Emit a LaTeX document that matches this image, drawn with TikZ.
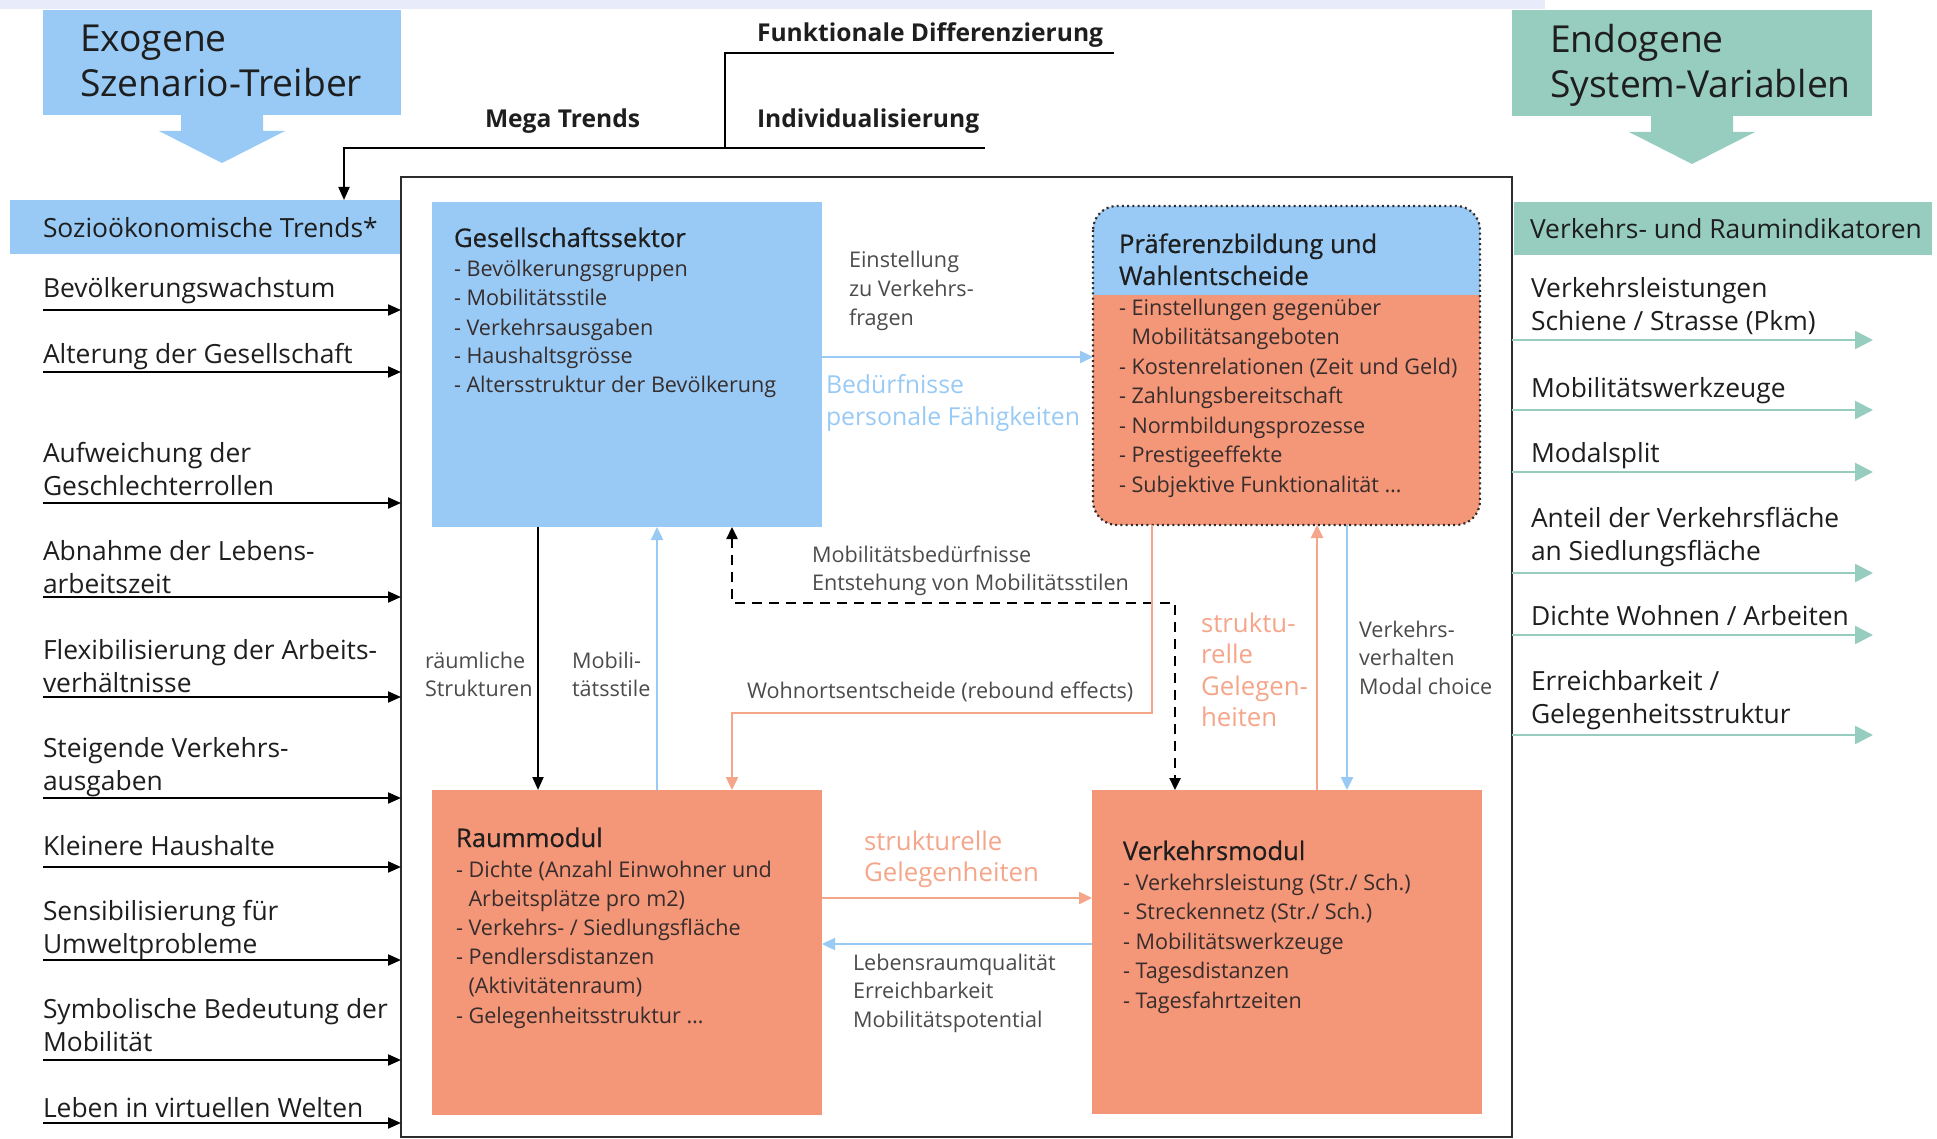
\documentclass[tikz,border=0pt]{standalone}
\usepackage{fontspec}
\setmainfont{Open Sans}
\newfontfamily\titlefont{Open Sans}[FakeBold=0.6]
\usetikzlibrary{arrows.meta,fit}

\definecolor{skyblue}{RGB}{152,202,245}
\definecolor{salmon}{RGB}{244,150,120}
\definecolor{salmonline}{RGB}{245,166,138}
\definecolor{mint}{RGB}{150,205,190}
\definecolor{band}{RGB}{232,236,250}
\definecolor{ink}{RGB}{30,30,30}
\definecolor{itemink}{RGB}{55,45,45}
\definecolor{labelgrey}{RGB}{75,75,75}
\definecolor{framegrey}{RGB}{45,45,45}

% multi-line text whose base anchor is the first baseline
\newcommand\ml[1]{\vtop{\halign{##\hfil\cr#1\crcr}}}
\newcommand\ind{\phantom{- }}

\tikzset{
  area/.style={inner sep=0pt, outer sep=0pt, draw=none},
  txt/.style={inner sep=0pt, outer sep=0pt, anchor=base west},
  headtxt/.style={txt, font=\fontsize{18.6}{22.5}\selectfont, text=ink},
  listtxt/.style={txt, font=\fontsize{13.2}{16.5}\selectfont, text=ink},
  boldtxt/.style={txt, font=\fontsize{12.3}{15}\selectfont\bfseries, text=ink},
  titletxt/.style={txt, font=\fontsize{12.8}{16}\titlefont, text=ink},
  itemtxt/.style={txt, font=\fontsize{10.8}{14.6}\selectfont, text=itemink},
  greytxt/.style={txt, font=\fontsize{10.8}{14.3}\selectfont, text=labelgrey},
  bluetxt/.style={txt, font=\fontsize{12.4}{16}\selectfont, text=skyblue},
  salmontxt/.style={txt, font=\fontsize{12.9}{15.8}\selectfont, text=salmonline},
  blkarr/.style={draw=black, line width=1pt, -{Triangle[length=6.5pt,width=5.5pt]}},
  plainline/.style={draw=black, line width=1pt},
  bluearr/.style={draw=skyblue, line width=1.2pt, -{Triangle[length=6.5pt,width=6pt]}},
  salarr/.style={draw=salmonline, line width=1.2pt, -{Triangle[length=6.5pt,width=6pt]}},
  mintarr/.style={draw=mint, line width=1.3pt, -{Triangle[length=9pt,width=9pt]}},
  dasharr/.style={draw=black, line width=1.2pt, dash pattern=on 5pt off 3.5pt,
    {Triangle[length=6pt,width=5.5pt]}-{Triangle[length=6pt,width=5.5pt]}},
}

\begin{document}
\begin{tikzpicture}[x=0.5pt,y=-0.5pt]
\useasboundingbox (0,0) rectangle (1937,1139);

% top band
\fill[band] (0,0) rectangle (1545,9);

% ---------- headers with block arrows ----------
\node[area, fill=skyblue, fit={(43,10) (401,115)}] (exo) {};
\node[headtxt] (exot) at (80,52) {\ml{Exogene\cr Szenario-Treiber}};
\fill[skyblue, shift={(exo.south)}]
  (-41,0) -- (41,0) -- (41,16) -- (63,16) -- (0,48) -- (-63,16) -- (-41,16) -- cycle;

\node[area, fill=mint, fit={(1512,10) (1872,116)}] (endo) {};
\node[headtxt] (endot) at (1550,53) {\ml{Endogene\cr System-Variablen}};
\fill[mint, shift={(endo.south)}]
  (-41,0) -- (41,0) -- (41,16) -- (63,16) -- (0,48) -- (-63,16) -- (-41,16) -- cycle;

\node[area, fill=skyblue, fit={(10,200) (401,254)}] (sozio) {};
\node[listtxt] (soziot) at (43,238) {Sozioökonomische Trends*};

\node[area, fill=mint, fit={(1514,202) (1932,255)}] (indik) {};
\node[listtxt] (indikt) at (1530,239) {Verkehrs- und Raumindikatoren};

% ---------- mega trends ----------
\node[boldtxt] (mega) at (485,128) {Mega Trends};
\node[boldtxt] (fdiff) at (757,42) {Funktionale Differenzierung};
\node[boldtxt] (indiv) at (757,128) {Individualisierung};
\coordinate (mFD) at (1114,53);
\coordinate (mC) at (725,53);
\coordinate (mJ) at (725,148);
\coordinate (mI) at (985,148);
\coordinate (mM) at (344,148);
\draw[plainline] (mFD) -- (mC) -- (mJ);
\draw[blkarr] (mI) -- (mJ) -- (mM) -- (sozio.north -| mM);

% ---------- system frame ----------
\node[area, draw=framegrey, line width=1.4pt, fit={(401,177) (1512,1137)}] (frame) {};

% ---------- left: socio-economic trends ----------
\node[listtxt] (l1) at (43,298) {Bevölkerungswachstum};
\node[listtxt] (l2) at (43,363) {Alterung der Gesellschaft};
\node[listtxt] (l3) at (43,462) {\ml{Aufweichung der\cr Geschlechterrollen}};
\node[listtxt] (l4) at (43,560) {\ml{Abnahme der Lebens-\cr arbeitszeit}};
\node[listtxt] (l5) at (43,659) {\ml{Flexibilisierung der Arbeits-\cr verhältnisse}};
\node[listtxt] (l6) at (43,757) {\ml{Steigende Verkehrs-\cr ausgaben}};
\node[listtxt] (l7) at (43,855) {Kleinere Haushalte};
\node[listtxt] (l8) at (43,920) {\ml{Sensibilisierung für\cr Umweltprobleme}};
\node[listtxt] (l9) at (43,1018) {\ml{Symbolische Bedeutung der\cr Mobilität}};
\node[listtxt] (l10) at (43,1117) {Leben in virtuellen Welten};
\foreach \n/\y in {1/310,2/372,3/503,4/597,5/697,6/798,7/867,8/960,9/1060,10/1123}{
  \coordinate (la\n) at (43,\y);
  \draw[blkarr] (la\n) -- (la\n -| frame.west);
}

% ---------- right: indicators ----------
\node[listtxt] (r1) at (1531,298) {\ml{Verkehrsleistungen\cr Schiene / Strasse (Pkm)}};
\node[listtxt] (r2) at (1531,397) {Mobilitätswerkzeuge};
\node[listtxt] (r3) at (1531,462) {Modalsplit};
\node[listtxt] (r4) at (1531,527) {\ml{Anteil der Verkehrsfläche\cr an Siedlungsfläche}};
\node[listtxt] (r5) at (1531,625) {Dichte Wohnen / Arbeiten};
\node[listtxt] (r6) at (1531,690) {\ml{Erreichbarkeit /\cr Gelegenheitsstruktur}};
\foreach \n/\y in {1/340,2/410,3/472,4/573,5/635,6/735}{
  \coordinate (ra\n) at (1873,\y);
  \draw[mintarr] (frame.east |- ra\n) -- (ra\n);
}

% ---------- modules ----------
\node[area, fill=skyblue, fit={(432,202) (822,527)}] (ges) {};
\node[titletxt] (gest) at (454,247) {Gesellschaftssektor};
\node[itemtxt, font=\fontsize{10.8}{14.5}\selectfont] (gesi) at (454,277) {\ml{- Bevölkerungsgruppen\cr
  - Mobilitätsstile\cr - Verkehrsausgaben\cr - Haushaltsgrösse\cr - Altersstruktur der Bevölkerung}};

% preference box: blue head, salmon body, dotted rounded outline
\node[area, fit={(1093,206) (1480,525)}] (pref) {};
\begin{scope}
  \clip[rounded corners=12pt] (pref.north west) rectangle (pref.south east);
  \fill[salmon] (pref.north west) rectangle (pref.south east);
  \fill[skyblue] (pref.north west) rectangle (1480,295);
\end{scope}
\draw[framegrey, line width=1.1pt, dash pattern=on 1pt off 1.6pt, rounded corners=12pt]
  (pref.north west) rectangle (pref.south east);
\node[titletxt] (preft) at (1119,253) {\ml{Präferenzbildung und\cr Wahlentscheide}};
\node[itemtxt, font=\fontsize{10.8}{14.75}\selectfont] (prefi) at (1119,315) {\ml{- Einstellungen gegenüber\cr
  \ind Mobilitätsangeboten\cr - Kostenrelationen (Zeit und Geld)\cr - Zahlungsbereitschaft\cr
  - Normbildungsprozesse\cr - Prestigeeffekte\cr - Subjektive Funktionalität …}};

\node[area, fill=salmon, fit={(432,790) (822,1115)}] (raum) {};
\node[titletxt] (raumt) at (456,847) {Raummodul};
\node[itemtxt, font=\fontsize{10.8}{14.6}\selectfont] (raumi) at (456,877) {\ml{- Dichte (Anzahl Einwohner und\cr
  \ind Arbeitsplätze pro m2)\cr - Verkehrs- / Siedlungsfläche\cr - Pendlersdistanzen\cr
  \ind(Aktivitätenraum)\cr - Gelegenheitsstruktur …}};

\node[area, fill=salmon, fit={(1092,790) (1482,1114)}] (verk) {};
\node[titletxt] (verkt) at (1123,860) {Verkehrsmodul};
\node[itemtxt, font=\fontsize{10.8}{14.75}\selectfont] (verki) at (1123,890) {\ml{- Verkehrsleistung (Str./ Sch.)\cr
  - Streckennetz (Str./ Sch.)\cr - Mobilitätswerkzeuge\cr - Tagesdistanzen\cr - Tagesfahrtzeiten}};

% ---------- connector labels ----------
\node[greytxt] (einst) at (849,268) {\ml{Einstellung\cr zu Verkehrs-\cr fragen}};
\node[bluetxt] (bedf) at (826,393) {\ml{Bedürfnisse\cr personale Fähigkeiten}};
\node[greytxt] (mobb) at (812,562) {\ml{Mobilitätsbedürfnisse\cr Entstehung von Mobilitätsstilen}};
\node[greytxt] (raeum) at (425,668) {\ml{räumliche\cr Strukturen}};
\node[greytxt] (mobst) at (572,668) {\ml{Mobili-\cr tätsstile}};
\node[greytxt] (wohn) at (747,698) {Wohnortsentscheide (rebound effects)};
\node[salmontxt] (strukv) at (1201,632) {\ml{struktu-\cr relle\cr Gelegen-\cr heiten}};
\node[greytxt] (verhal) at (1359,637) {\ml{Verkehrs-\cr verhalten\cr Modal choice}};
\node[salmontxt] (strukh) at (864,850) {\ml{strukturelle\cr Gelegenheiten}};
\node[greytxt] (leben) at (853,970) {\ml{Lebensraumqualität\cr Erreichbarkeit\cr Mobilitätspotential}};

% ---------- connectors between modules ----------
\coordinate (h357) at (0,357);
\draw[bluearr] (ges.east |- h357) -- (pref.west |- h357);

\coordinate (v538) at (538,0);
\draw[blkarr] (ges.south -| v538) -- (raum.north -| v538);

\coordinate (v657) at (657,0);
\draw[bluearr] (raum.north -| v657) -- (ges.south -| v657);

\coordinate (dA) at (732,603);
\coordinate (dB) at (1175,603);
\draw[dasharr] (ges.south -| dA) -- (dA) -- (dB) -- (verk.north -| dB);

\coordinate (sA) at (1152,713);
\coordinate (sB) at (732,713);
\draw[salarr] (pref.south -| sA) -- (sA) -- (sB) -- (raum.north -| sB);

\coordinate (v1317) at (1317,0);
\draw[salarr] (verk.north -| v1317) -- (pref.south -| v1317);

\coordinate (v1347) at (1347,0);
\draw[bluearr] (pref.south -| v1347) -- (verk.north -| v1347);

\coordinate (h898) at (0,898);
\draw[salarr] (raum.east |- h898) -- (verk.west |- h898);

\coordinate (h944) at (0,944);
\draw[bluearr] (verk.west |- h944) -- (raum.east |- h944);

\end{tikzpicture}
\end{document}
